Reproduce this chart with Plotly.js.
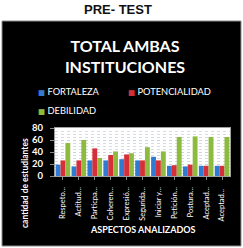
<!DOCTYPE html>
<html>
<head>
<meta charset="utf-8">
<script src="https://cdn.plot.ly/plotly-3.0.1.min.js"></script>
<style>html,body{margin:0;padding:0;background:#fff;}#chart{width:243px;height:248px;}</style>
</head>
<body>
<div id="chart"></div>
<script>
const categories = ["Respeto...", "Actitud...", "Particpa...", "Coheren...", "Expresió...", "Segurida...", "Iniciar y...", "Petición...", "Postura...", "Aceptad...", "Aceptad... "];
const seriesNames = ["FORTALEZA", "POTENCIALIDAD", "DEBILIDAD"];
const fortaleza = [19, 16, 26, 26, 28, 26, 32, 17, 16, 17, 17];
const potencialidad = [26, 26, 46, 35, 36, 26, 26, 18, 19, 17, 17];
const debilidad = [55, 60, 30, 41, 38, 48, 41, 65, 66, 65, 65];
const yTicks = [0, 20, 40, 60, 80];
const colors = ["#2f7bd3", "#d5303a", "#8dbb3e"];

const W = 243, H = 248;
const M = {l: 55, r: 13, t: 128, b: 72};
const pw = W - M.l - M.r, ph = H - M.t - M.b;
const xp = px => (px - M.l) / pw;
const yp = py => (H - M.b - py) / ph;

const values = [fortaleza, potencialidad, debilidad];
const traces = values.map((v, i) => ({
  type: 'bar', x: categories, y: v, name: seriesNames[i],
  marker: {color: colors[i], line: {width: 0}}, showlegend: false, hoverinfo: 'none'
}));

const font = "Lato, 'Open Sans', sans-serif";
const legendPos = [[36, 91], [126, 91], [36, 110]];
const annotations = seriesNames.map((n, i) => ({
  xref: 'paper', yref: 'paper', x: xp(legendPos[i][0]), y: yp(legendPos[i][1]),
  xanchor: 'left', yanchor: 'middle', showarrow: false,
  text: '<span style="color:' + colors[i] + ';font-family:DejaVu Sans;font-size:7.5px">■</span> ' + n,
  font: {family: font, size: 9.3, color: '#ffffff'}
}));
annotations.push({
  xref: 'paper', yref: 'paper', x: xp(118), y: yp(9), xanchor: 'center', yanchor: 'middle',
  showarrow: false, text: 'PRE- TEST',
  font: {family: "'Liberation Sans', Arial, sans-serif", size: 13, color: '#111111', weight: 'bold'}
});
annotations.push({
  xref: 'paper', yref: 'paper', x: xp(25), y: yp(183), xanchor: 'center', yanchor: 'middle',
  showarrow: false, textangle: -90, text: 'cantidad de estudiantes',
  font: {family: font, size: 8.5, color: '#ffffff', weight: 'bold'}
});
annotations.push({
  xref: 'paper', yref: 'paper', x: xp(143), y: yp(229), xanchor: 'center', yanchor: 'middle',
  showarrow: false, text: 'ASPECTOS ANALIZADOS',
  font: {family: font, size: 9, color: '#ffffff', weight: 'bold'}
});

const layout = {
  width: W, height: H,
  margin: M,
  paper_bgcolor: '#ffffff', plot_bgcolor: '#ffffff',
  barmode: 'group', bargap: 0.08, bargroupgap: 0,
  title: {
    text: 'TOTAL AMBAS<br>INSTITUCIONES', x: 125 / W, xref: 'container', xanchor: 'center',
    y: 1 - 52 / H, yref: 'container', yanchor: 'middle',
    font: {family: font, size: 16, color: '#ffffff', weight: 'bold'}
  },
  xaxis: {
    type: 'category', tickangle: -90, ticks: 'outside', ticklen: 3, tickcolor: '#888888',
    tickfont: {family: font, size: 7.5, color: '#ffffff'},
    showline: true, linecolor: '#a0a0a0', linewidth: 1, mirror: true, showgrid: false,
    ticklabelstandoff: 4, automargin: false
  },
  yaxis: {
    range: [0, 80], tickvals: yTicks, ticktext: yTicks.map(String),
    ticks: 'outside', ticklen: 4, tickcolor: '#888888',
    tickfont: {family: font, size: 9.5, color: '#ffffff', weight: 'bold'},
    showline: true, linecolor: '#a0a0a0', linewidth: 1, mirror: true,
    showgrid: true, gridcolor: '#cdd3de', griddash: 'dot', gridwidth: 1,
    minor: {dtick: 5, showgrid: true, gridcolor: '#d6dbe4', griddash: 'dot', gridwidth: 1},
    zeroline: false, ticklabelstandoff: 5, automargin: false
  },
  shapes: [
    {type: 'rect', xref: 'paper', yref: 'paper', layer: 'below',
     x0: xp(2), x1: xp(241), y0: yp(246), y1: yp(21),
     fillcolor: '#000000', line: {color: '#8c8c8c', width: 1}},
    {type: 'rect', xref: 'paper', yref: 'paper', layer: 'below',
     x0: 0, x1: 1, y0: 0, y1: 1, fillcolor: '#ffffff', line: {width: 0}}
  ],
  annotations: annotations,
  showlegend: false
};

Plotly.newPlot('chart', traces, layout, {displayModeBar: false, staticPlot: true});
</script>
</body>
</html>
